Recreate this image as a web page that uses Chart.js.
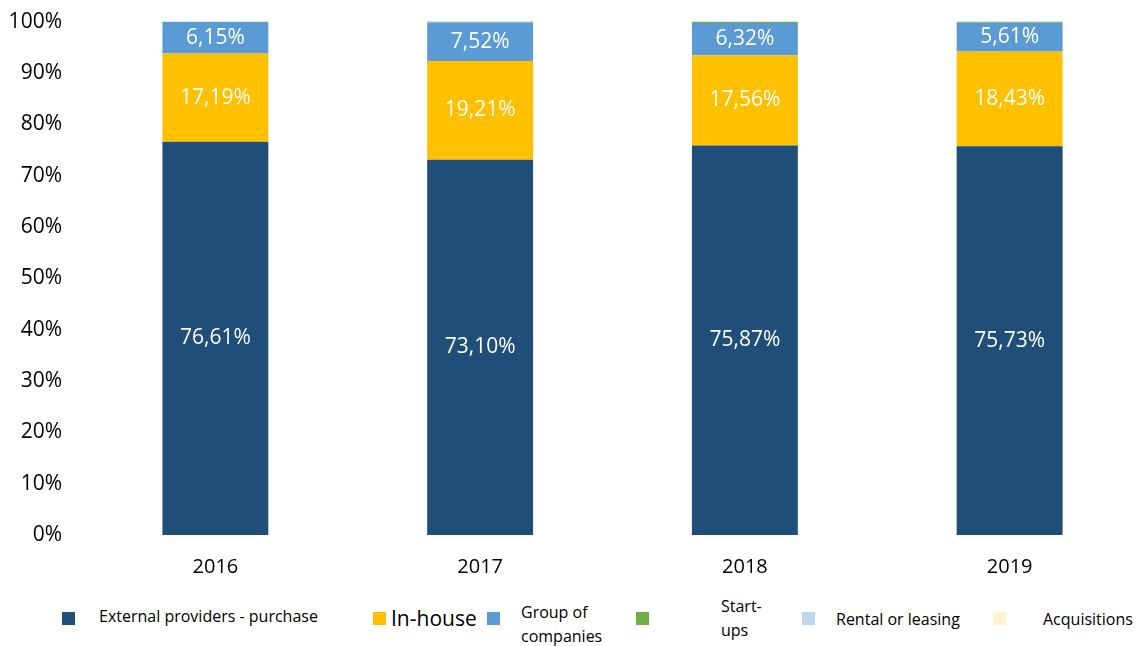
<!DOCTYPE html>
<html>
<head>
<meta charset="utf-8">
<script src="https://cdn.jsdelivr.net/npm/chart.js@4/dist/chart.umd.min.js"></script>
<style>
  html, body { margin: 0; padding: 0; background: #fff; overflow: hidden; }
  #wrap { position: relative; width: 1136px; height: 646px; overflow: hidden; }
  #chart-box { position: absolute; left: 0; top: -4px; width: 1142px; height: 595px; }
  .lg-box { position: absolute; width: 13px; height: 13px; }
  .lg-text { position: absolute; font-family: "Open Sans", sans-serif; color: #000; line-height: 24px; }
</style>
</head>
<body>
<div id="wrap">
  <div id="chart-box"><canvas id="grafica"></canvas></div>
</div>
<script>
const years = ['2016', '2017', '2018', '2019'];
const seriesNames = ['External providers - purchase', 'In-house', 'Group of companies', 'Start-ups', 'Rental or leasing', 'Acquisitions'];
const externalProviders = [76.61, 73.10, 75.87, 75.73];
const inHouse = [17.19, 19.21, 17.56, 18.43];
const groupOfCompanies = [6.15, 7.52, 6.32, 5.61];
const startUps = [0.05, 0.17, 0.25, 0.23];
const rentalLeasing = [0, 0, 0, 0];
const acquisitions = [0, 0, 0, 0];
const yTicks = [0, 10, 20, 30, 40, 50, 60, 70, 80, 90, 100];

const colors = ['#1F4E79', '#FFC000', '#5B9BD5', '#70AD47', '#BDD7EE', '#FFF2CC'];
const allValues = [externalProviders, inHouse, groupOfCompanies, startUps, rentalLeasing, acquisitions];
const labelled = [true, true, true, false, false, false];

// legend layout: [boxX, textX, textY, fontSize, text lines]
const legendLayout = [
  [62, 99, 604, 16, ['External providers - purchase']],
  [373, 391, 606, 21, ['In-house']],
  [487, 521, 600, 16, ['Group of', 'companies']],
  [636, 721, 594, 16, ['Start-', 'ups']],
  [802, 836, 607, 16, ['Rental or leasing']],
  [993, 1043, 607, 16, ['Acquisitions']]
];

const fmt = v => v.toFixed(2).replace('.', ',') + '%';

const segmentLabels = {
  id: 'segmentLabels',
  afterDatasetsDraw(chart) {
    const c = chart.ctx;
    c.save();
    c.fillStyle = '#fff';
    c.font = '21px "Open Sans"';
    c.textAlign = 'center';
    c.textBaseline = 'middle';
    chart.data.datasets.forEach((ds, i) => {
      if (!labelled[i]) return;
      chart.getDatasetMeta(i).data.forEach((bar, j) => {
        const mid = (bar.y + bar.base) / 2;
        c.fillText(fmt(ds.data[j]), bar.x, mid);
      });
    });
    c.restore();
  }
};

const ctx = document.querySelector('#grafica');
new Chart(ctx, {
  type: 'bar',
  data: {
    labels: years,
    datasets: seriesNames.map((name, i) => ({
      label: name,
      data: allValues[i],
      backgroundColor: colors[i],
      barPercentage: 0.4,
      categoryPercentage: 1
    }))
  },
  options: {
    responsive: true,
    maintainAspectRatio: false,
    animation: false,
    layout: { padding: { top: 0, left: 0, right: 0, bottom: 0 } },
    scales: {
      x: {
        stacked: true,
        grid: { display: false },
        border: { display: false },
        ticks: { color: '#000', font: { family: 'Open Sans', size: 20 }, padding: 12 }
      },
      y: {
        stacked: true,
        min: 0,
        max: 100,
        afterBuildTicks: axis => { axis.ticks = yTicks.map(v => ({ value: v })); },
        afterFit: axis => { axis.width = 83; },
        grid: { display: false },
        border: { display: false },
        ticks: { color: '#000', font: { family: 'Open Sans', size: 21 }, padding: 13, callback: v => v + '%' }
      }
    },
    plugins: {
      legend: { display: false },
      tooltip: { enabled: false }
    }
  },
  plugins: [segmentLabels]
});

const wrap = document.querySelector('#wrap');
legendLayout.forEach((l, i) => {
  const box = document.createElement('div');
  box.className = 'lg-box';
  box.style.left = l[0] + 'px';
  box.style.top = '612px';
  box.style.background = colors[i];
  wrap.appendChild(box);
  const t = document.createElement('div');
  t.className = 'lg-text';
  t.style.left = l[1] + 'px';
  t.style.top = l[2] + 'px';
  t.style.fontSize = l[3] + 'px';
  t.innerHTML = l[4].join('<br>');
  wrap.appendChild(t);
});
</script>
</body>
</html>
